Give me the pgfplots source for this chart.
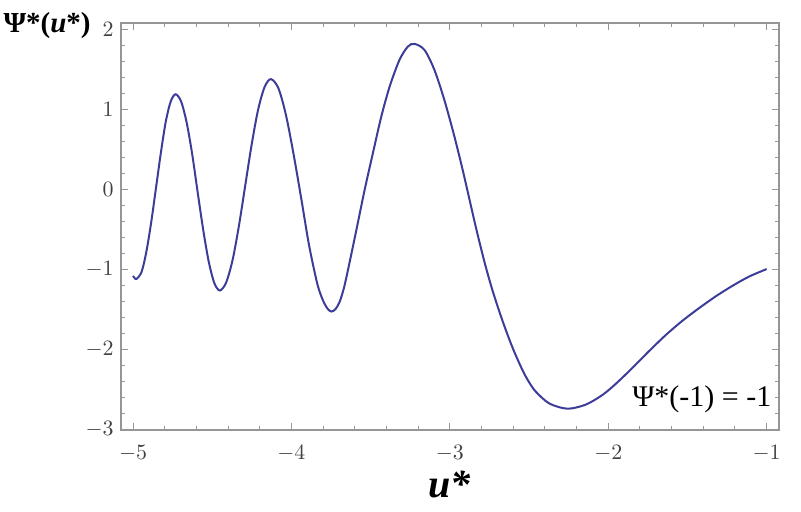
\documentclass[border=0pt]{standalone}
\usepackage{fontspec}
\setmainfont{Liberation Serif}
\usepackage{pgfplots}
\pgfplotsset{compat=1.18}
\definecolor{curveblue}{RGB}{61,61,153}
\definecolor{framegray}{RGB}{150,150,150}
\begin{document}
\begin{tikzpicture}
\useasboundingbox (-60.35pt,-41pt) rectangle (340.15pt,214.95pt);
\begin{axis}[
  scale only axis, width=329.15pt, height=203.35pt,
  xmin=-5.078, xmax=-0.922, ymin=-3.01, ymax=2.075,
  axis line style={framegray, line width=0.8pt},
  tick style={framegray, line width=0.5pt},
  major tick length=3.5pt, minor tick length=2pt,
  tick align=inside,
  xtick={-5,-4,-3,-2,-1}, ytick={-3,-2,-1,0,1,2},
  minor tick num=4,
  ticklabel style={font=\fontsize{10.5}{12}\selectfont, text=black!75},
  xticklabel style={yshift=-4pt},
  xlabel={\fontsize{20}{24}\selectfont\bfseries\itshape u*},
  xlabel style={at={(rel axis cs:0.5,0)}, anchor=base, yshift=-34pt},
  ylabel={\fontsize{14.5}{16}\selectfont\bfseries Ψ*(\textit{u}*)},
  ylabel style={rotate=-90, at={(rel axis cs:0,1)}, anchor=base east, xshift=-11.5pt, yshift=-4.8pt},
]
\addplot[curveblue, line width=1pt, smooth] coordinates {
(-5.000,-1.084) (-4.990,-1.112) (-4.977,-1.121)
(-4.946,-1.033) (-4.916,-0.783) (-4.885,-0.409) (-4.854,0.033)
(-4.823,0.474) (-4.793,0.848) (-4.762,1.098) (-4.731,1.186)
(-4.696,1.093) (-4.661,0.827) (-4.626,0.429) (-4.592,-0.041)
(-4.557,-0.510) (-4.522,-0.908) (-4.487,-1.174) (-4.452,-1.267)
(-4.412,-1.166) (-4.371,-0.880) (-4.331,-0.451) (-4.291,0.055)
(-4.251,0.560) (-4.211,0.989) (-4.170,1.275) (-4.130,1.376)
(-4.082,1.260) (-4.034,0.920) (-3.986,0.430) (-3.938,-0.120)
(-3.889,-0.700) (-3.841,-1.150) (-3.817,-1.310) (-3.793,-1.425) (-3.770,-1.500) (-3.747,-1.530)
(-3.722,-1.500) (-3.697,-1.415) (-3.670,-1.245) (-3.643,-1.009) (-3.590,-0.509) (-3.538,-0.009)
(-3.486,0.449) (-3.433,0.906) (-3.380,1.283) (-3.318,1.616) (-3.265,1.783)
(-3.223,1.816)
(-3.160,1.740) (-3.097,1.488) (-3.034,1.110) (-2.971,0.656) (-2.919,0.240)
(-2.876,-0.130) (-2.834,-0.491) (-2.782,-0.907) (-2.730,-1.271) (-2.667,-1.649)
(-2.604,-1.983) (-2.541,-2.265) (-2.498,-2.420) (-2.456,-2.535) (-2.372,-2.680) (-2.257,-2.745)
(-2.141,-2.693) (-2.036,-2.572) (-1.952,-2.433) (-1.847,-2.234) (-1.742,-2.024)
(-1.637,-1.824) (-1.532,-1.646) (-1.427,-1.488) (-1.322,-1.341) (-1.217,-1.210)
(-1.112,-1.094) (-1.000,-0.999)
};
\node[anchor=base east, inner sep=0pt, font=\fontsize{15}{17}\selectfont, xshift=-3.65pt, yshift=11.5pt]
  at (rel axis cs:1,0) {Ψ*(-1) = -1};
\end{axis}
\end{tikzpicture}
\end{document}
